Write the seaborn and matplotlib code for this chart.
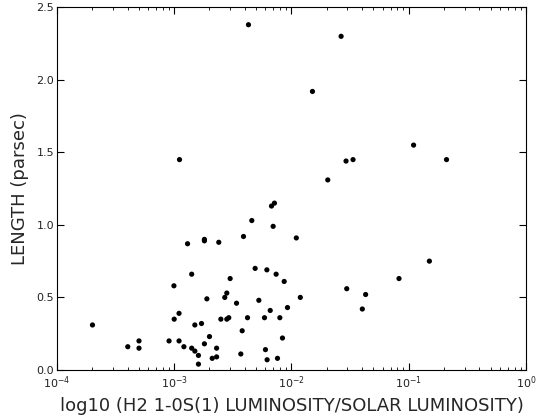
import matplotlib
matplotlib.use("Agg")
import matplotlib.pyplot as plt
import seaborn as sns
import pandas as pd
from matplotlib.ticker import LogLocator, FormatStrFormatter

# H2 1-0S(1) luminosity (solar units) and jet length (parsec)
luminosity = [0.0043, 0.00111, 0.0265, 0.0151, 0.110, 0.210, 0.0292, 0.0335, 0.0204,
              0.000201, 0.000402, 0.000501, 0.000501, 0.000904, 0.000995, 0.00100,
              0.0011, 0.0011, 0.00121, 0.0013, 0.00141, 0.00141, 0.0015, 0.0015,
              0.00161, 0.00161, 0.00171, 0.00181, 0.00181, 0.00181, 0.0019, 0.0020,
              0.00211, 0.0023, 0.0023, 0.0024, 0.0025, 0.0027, 0.00281, 0.00281,
              0.00292, 0.0030, 0.0034, 0.0037, 0.0038, 0.0039, 0.00422, 0.00459,
              0.0049, 0.00527, 0.00589, 0.0060, 0.00617, 0.0062, 0.00659, 0.00676,
              0.00716, 0.00698, 0.0074, 0.0076, 0.00796, 0.00838, 0.00867, 0.00925,
              0.011, 0.0119, 0.0296, 0.0402, 0.0429, 0.0826, 0.150]
length = [2.38, 1.45, 2.30, 1.92, 1.55, 1.45, 1.44, 1.45, 1.31,
          0.31, 0.16, 0.20, 0.15, 0.20, 0.58, 0.35,
          0.39, 0.20, 0.16, 0.87, 0.66, 0.15, 0.31, 0.13,
          0.10, 0.04, 0.32, 0.90, 0.89, 0.18, 0.49, 0.23,
          0.08, 0.15, 0.09, 0.88, 0.35, 0.50, 0.53, 0.35,
          0.36, 0.63, 0.46, 0.11, 0.27, 0.92, 0.36, 1.03,
          0.70, 0.48, 0.36, 0.14, 0.69, 0.07, 0.41, 1.13,
          1.15, 0.99, 0.66, 0.08, 0.36, 0.22, 0.61, 0.43,
          0.91, 0.50, 0.56, 0.42, 0.52, 0.63, 0.75]

df = pd.DataFrame({"lum": luminosity, "length": length})

sns.set_style("ticks")
plt.rcParams["font.family"] = ["DejaVu Sans"]
plt.rcParams["xtick.direction"] = "in"
plt.rcParams["ytick.direction"] = "in"

fig = plt.figure(figsize=(5.42, 4.18), dpi=100)
ax = fig.add_axes([0.105, 0.115, 0.8655, 0.8675])
sns.scatterplot(data=df, x="lum", y="length", color="black", s=14,
                edgecolor="none", ax=ax)
ax.set_xscale("log")
ax.set_xlim(1e-4, 1)
ax.set_ylim(0, 2.5)
ax.set_yticks([0, 0.5, 1.0, 1.5, 2.0, 2.5])
ax.yaxis.set_major_formatter(FormatStrFormatter("%.1f"))
ax.xaxis.set_minor_locator(LogLocator(base=10, subs=range(2, 10)))
ax.tick_params(which="both", top=True, right=True, labelsize=8, color="black",
               labelcolor="#222222")
ax.tick_params(which="major", length=5, width=0.8)
ax.tick_params(which="minor", length=2.5, width=0.6)
ax.tick_params(axis="y", pad=2)
ax.tick_params(axis="x", pad=3.5)
for sp in ax.spines.values():
    sp.set_visible(True)
    sp.set_color("black")
ax.set_xlabel("log10 (H2 1-0S(1) LUMINOSITY/SOLAR LUMINOSITY)", fontsize=13, labelpad=4)
ax.set_ylabel("LENGTH (parsec)", fontsize=13, labelpad=5)

fig.savefig("out.png", dpi=100)
